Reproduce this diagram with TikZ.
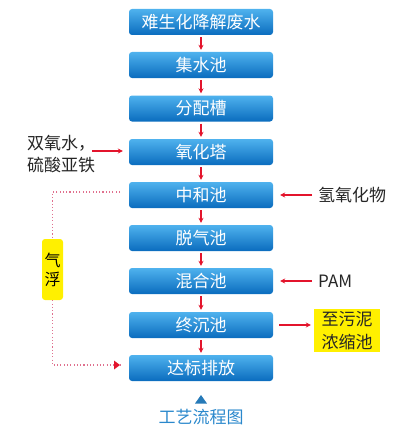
\documentclass[tikz,border=0pt]{standalone}
\usepackage{fontspec}
\setmainfont{Noto Sans CJK SC}
\usetikzlibrary{arrows.meta,calc}
\definecolor{boxtop}{HTML}{4FB2EE}
\definecolor{boxbot}{HTML}{0A6CBE}
\definecolor{flowred}{HTML}{E3142C}
\definecolor{dotpink}{HTML}{E0708E}
\definecolor{hlyellow}{HTML}{FFF000}
\definecolor{titleblue}{HTML}{2A88CC}
\begin{document}
\begin{tikzpicture}[x=1pt,y=-1pt]
\useasboundingbox (0,0) rectangle (409,444);
\tikzset{
  proc/.style={minimum width=144pt, minimum height=26pt, rounded corners=3pt,
    top color=boxtop, bottom color=boxbot, text=white, inner sep=0pt,
    font=\fontsize{17}{18}\selectfont},
  flow/.style={draw=flowred, line width=1.1pt, -{Stealth[length=5pt,width=5pt]}},
  side/.style={font=\fontsize{17}{22}\selectfont, inner sep=0pt, text=black!85},
  dotline/.style={draw=dotpink, line width=1.1pt, dash pattern=on 1.1pt off 2.2pt},
  hl/.style={fill=hlyellow, inner sep=0pt}
}
% process boxes
\node[proc] (b1) at (201,22) {难生化降解废水};
\node[proc] (b2) at (201,65) {集水池};
\node[proc] (b3) at (201,108.5) {分配槽};
\node[proc] (b4) at (201,152) {氧化塔};
\node[proc] (b5) at (201,195) {中和池};
\node[proc] (b6) at (201,238) {脱气池};
\node[proc] (b7) at (201,281) {混合池};
\node[proc] (b8) at (201,325) {终沉池};
\node[proc] (b9) at (201,368) {达标排放};
% vertical flow arrows
\foreach \a/\b in {b1/b2,b2/b3,b3/b4,b4/b5,b5/b6,b6/b7,b7/b8,b8/b9}
  \draw[flow, shorten <=2pt, shorten >=2pt] (\a.south) -- (\b.north);
% left input
\node[side, anchor=north west, align=left] (l1) at (27,135) {双氧水，\\硫酸亚铁};
\coordinate (l1s) at (92,151);
\draw[flow, shorten >=6pt] (l1s) -- (b4.west |- l1s);
% right inputs
\node[side, anchor=west] (r5) at (318,195) {氢氧化物};
\node[side, anchor=west] (r7) at (318,281) {PAM};
\draw[flow, shorten <=6pt, shorten >=7pt] (r5.west) -- (b5.east);
\draw[flow, shorten <=6pt, shorten >=7pt] (r7.west) -- (b7.east);
% output to sludge
\node[hl, side, align=center, minimum width=66pt, minimum height=43pt,
  font=\fontsize{17}{23}\selectfont] (r8) at (347,330.5) {至污泥\\浓缩池};
\draw[flow, shorten <=6pt, shorten >=3pt] (b8.east) -- (r8.west |- b8.east);
% air flotation bypass
\node[hl, rounded corners=3pt, minimum width=21pt, minimum height=61pt,
  font=\fontsize{16}{19}\selectfont, align=center] (qf) at (52.5,269.5) {气\\浮};
\coordinate (d1) at (120,192);
\coordinate (d2) at (120,365);
\draw[dotline] (d1) -| (qf.north);
\draw[dotline] (qf.south) |- (d2);
\fill[flowred] (d2) ++(-6,-4.5) -- ++(6,4.5) -- ++(-6,4.5) -- cycle;
% title
\node[font=\fontsize{17}{18}\selectfont, text=titleblue, inner sep=0pt] (t) at (201,417) {工艺流程图};
\fill[titleblue!90!black] (195,403.5) -- (207,403.5) -- (201,395) -- cycle;
\end{tikzpicture}
\end{document}
